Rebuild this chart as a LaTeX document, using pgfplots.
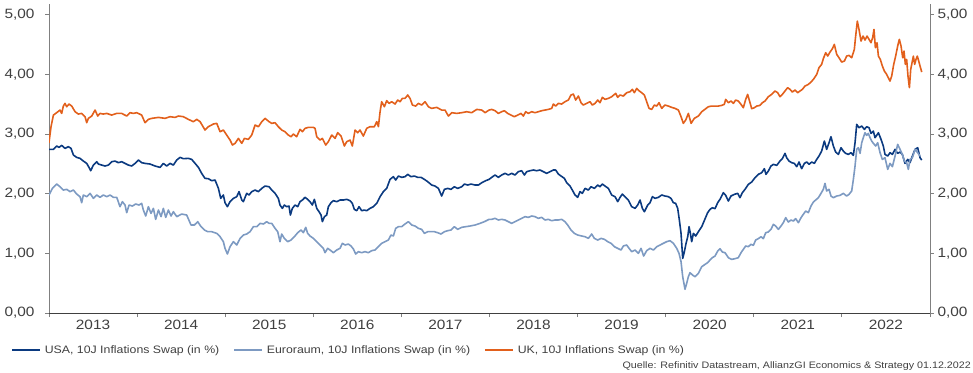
\documentclass[border=0pt]{standalone}
\usepackage{pgfplots}
\pgfplotsset{compat=1.18}
\usepackage{fontspec}
\setmainfont{Liberation Sans}[FakeStretch=1.14]
\definecolor{usa}{HTML}{0B3A80}
\definecolor{euro}{HTML}{7D9AC2}
\definecolor{uk}{HTML}{E2601C}
\definecolor{txt}{HTML}{404040}
\definecolor{axg}{HTML}{808080}
\begin{document}
\begin{tikzpicture}
\path[use as bounding box] (0pt,0pt) rectangle (973pt,372pt);
\begin{axis}[
  at={(49pt,59pt)}, anchor=south west, scale only axis,
  width=881pt, height=309pt,
  xmin=2013, xmax=2023, ymin=0, ymax=5.18,
  axis lines*=left,
  axis line style={draw=axg, line width=0.8pt},
  x axis line style={draw=txt},
  xtick={2013,...,2023}, x tick label as interval,
  ytick={0,1,2,3,4,5},
  tick align=outside, major tick length=4pt,
  tick style={draw=axg, line width=0.8pt},
  /pgf/number format/assume math mode=true,
  xticklabel style={/pgf/number format/1000 sep={}, font=\fontsize{13.5}{16}\selectfont, text=txt},
  yticklabel style={/pgf/number format/fixed, /pgf/number format/fixed zerofill, /pgf/number format/precision=2, /pgf/number format/use comma, font=\fontsize{13.5}{16}\selectfont, text=txt, xshift=-7pt},
  legend style={at={(-0.0431,-0.1197)}, anchor=west, draw=none, fill=none, inner sep=0pt,
    legend columns=3, font=\fontsize{10.8}{13}\selectfont, text=txt,
    nodes={inner sep=0pt},
    /tikz/every odd column/.append style={column sep=4pt},
    /tikz/every even column/.append style={column sep=14pt}},
  legend image code/.code={\draw[#1] (0pt,0pt) -- (28pt,0pt);},
  every axis plot/.append style={line width=1.6pt, line join=round},
]
\addplot[usa] coordinates {
(2013.000,2.743) (2013.050,2.743) (2013.087,2.799) (2013.114,2.777) (2013.144,2.810) (2013.182,2.760) (2013.220,2.788) (2013.250,2.760) (2013.277,2.648) (2013.314,2.609) (2013.352,2.592) (2013.390,2.547) (2013.428,2.508) (2013.454,2.441) (2013.473,2.385) (2013.504,2.480) (2013.542,2.536) (2013.560,2.497) (2013.598,2.480) (2013.636,2.464) (2013.674,2.480) (2013.712,2.536) (2013.750,2.547) (2013.787,2.520) (2013.825,2.536) (2013.863,2.508) (2013.901,2.480) (2013.939,2.464) (2013.977,2.508) (2014.015,2.564) (2014.052,2.520) (2014.090,2.508) (2014.147,2.497) (2014.204,2.464) (2014.261,2.441) (2014.298,2.508) (2014.336,2.464) (2014.374,2.508) (2014.412,2.480) (2014.450,2.564) (2014.488,2.609) (2014.525,2.587) (2014.582,2.592) (2014.620,2.575) (2014.658,2.508) (2014.696,2.441) (2014.733,2.341) (2014.771,2.257) (2014.809,2.251) (2014.847,2.218) (2014.885,2.229) (2014.923,2.089) (2014.949,1.922) (2014.979,1.978) (2014.998,1.849) (2015.025,1.782) (2015.055,1.866) (2015.093,1.922) (2015.131,1.950) (2015.157,2.034) (2015.188,1.894) (2015.206,1.866) (2015.244,2.006) (2015.271,1.978) (2015.301,2.034) (2015.339,2.061) (2015.377,2.034) (2015.415,2.089) (2015.452,2.128) (2015.498,2.117)
(2015.528,2.061) (2015.566,2.006) (2015.603,1.922) (2015.622,1.810) (2015.649,1.754) (2015.671,1.810) (2015.698,1.782) (2015.724,1.793) (2015.740,1.642) (2015.762,1.754) (2015.793,1.810) (2015.823,1.782) (2015.849,1.866) (2015.876,1.894) (2015.906,1.939) (2015.936,1.905) (2015.963,1.866) (2015.989,1.810) (2016.012,1.905) (2016.039,1.754) (2016.065,1.698) (2016.088,1.642) (2016.103,1.531) (2016.126,1.615) (2016.152,1.642) (2016.171,1.782) (2016.201,1.849) (2016.228,1.883) (2016.266,1.866) (2016.303,1.894) (2016.341,1.894) (2016.379,1.905) (2016.417,1.883) (2016.443,1.838) (2016.466,1.737) (2016.493,1.715) (2016.519,1.782) (2016.549,1.715) (2016.580,1.726) (2016.606,1.715) (2016.644,1.754) (2016.682,1.782) (2016.720,1.838) (2016.758,1.950) (2016.795,2.034) (2016.833,2.089) (2016.871,2.240) (2016.909,2.285) (2016.935,2.229) (2016.966,2.296) (2017.003,2.274) (2017.041,2.285) (2017.072,2.324) (2017.109,2.285) (2017.147,2.296) (2017.185,2.274) (2017.223,2.274) (2017.261,2.240) (2017.299,2.201) (2017.344,2.145) (2017.382,2.128) (2017.420,2.089) (2017.457,1.961) (2017.488,2.073) (2017.526,2.089) (2017.563,2.073) (2017.601,2.117) (2017.639,2.089) (2017.685,2.117) (2017.715,2.162) (2017.753,2.145) (2017.790,2.162) (2017.836,2.145) (2017.874,2.145) (2017.912,2.184) (2017.957,2.218) (2017.995,2.240)
(2018.025,2.274) (2018.063,2.313) (2018.100,2.274) (2018.138,2.313) (2018.176,2.341) (2018.214,2.313) (2018.252,2.341) (2018.290,2.313) (2018.327,2.369) (2018.365,2.385) (2018.396,2.313) (2018.422,2.369) (2018.460,2.385) (2018.498,2.397) (2018.536,2.385) (2018.573,2.397) (2018.611,2.369) (2018.649,2.341) (2018.687,2.369) (2018.725,2.397) (2018.751,2.397) (2018.781,2.330) (2018.812,2.296) (2018.850,2.257) (2018.876,2.184) (2018.914,2.128) (2018.940,2.061) (2018.971,1.978) (2019.001,1.939) (2019.027,2.034) (2019.054,2.006) (2019.084,2.089) (2019.122,2.061) (2019.152,2.117) (2019.190,2.089) (2019.228,2.145) (2019.254,2.117) (2019.281,2.162) (2019.311,2.128) (2019.349,2.089) (2019.387,1.978) (2019.425,1.950) (2019.455,1.866) (2019.482,1.939) (2019.508,1.994) (2019.538,1.950) (2019.576,1.894) (2019.614,1.782) (2019.652,1.754) (2019.682,1.810) (2019.709,1.894) (2019.735,1.754) (2019.758,1.698) (2019.796,1.810) (2019.822,1.849) (2019.849,1.950) (2019.879,1.922) (2019.917,1.939) (2019.955,1.978) (2019.992,1.961) (2020.030,1.950) (2020.060,1.922) (2020.087,1.849) (2020.113,1.838) (2020.136,1.754) (2020.155,1.559) (2020.174,1.335) (2020.193,0.916) (2020.212,1.028) (2020.231,1.168) (2020.250,1.279) (2020.265,1.447) (2020.280,1.335) (2020.295,1.196) (2020.314,1.335) (2020.341,1.291) (2020.371,1.363) (2020.409,1.447)
(2020.476,1.682) (2020.503,1.737) (2020.529,1.765) (2020.560,1.749) (2020.590,1.849) (2020.616,1.905) (2020.654,2.017) (2020.681,1.972) (2020.711,1.877) (2020.741,1.961) (2020.779,1.989) (2020.817,2.006) (2020.843,1.933) (2020.870,2.017) (2020.900,2.073) (2020.938,2.156) (2020.976,2.196) (2021.014,2.268) (2021.051,2.324) (2021.089,2.352) (2021.120,2.419) (2021.138,2.324) (2021.165,2.380) (2021.195,2.464) (2021.222,2.492) (2021.260,2.475) (2021.297,2.547) (2021.324,2.587) (2021.354,2.676) (2021.373,2.603) (2021.400,2.547) (2021.430,2.520) (2021.460,2.508) (2021.487,2.453) (2021.513,2.531) (2021.543,2.419) (2021.574,2.508) (2021.600,2.531) (2021.627,2.492) (2021.657,2.531) (2021.687,2.508) (2021.714,2.575) (2021.740,2.631) (2021.770,2.715) (2021.801,2.883) (2021.827,2.743) (2021.854,2.855) (2021.876,2.955) (2021.903,2.799) (2021.929,2.698) (2021.960,2.659) (2021.990,2.771) (2022.016,2.715) (2022.043,2.676) (2022.073,2.659) (2022.103,2.687) (2022.130,2.642) (2022.149,2.855) (2022.168,3.162) (2022.194,3.106) (2022.225,3.134) (2022.255,3.078) (2022.281,3.123) (2022.308,3.106) (2022.330,3.011) (2022.357,3.050) (2022.376,2.939) (2022.395,2.978) (2022.414,3.022) (2022.444,2.911) (2022.470,2.799) (2022.489,2.659) (2022.520,2.631) (2022.546,2.687) (2022.573,2.659) (2022.603,2.743) (2022.633,2.676) (2022.660,2.698) (2022.686,2.659) (2022.716,2.508) (2022.747,2.575) (2022.773,2.520) (2022.800,2.631) (2022.830,2.743) (2022.860,2.771) (2022.887,2.603) (2022.906,2.564)
};
\addlegendentry{USA, 10J Inflations Swap (in \%)}
\addplot[euro] coordinates {
(2013.000,1.978) (2013.038,2.089) (2013.087,2.162) (2013.125,2.117) (2013.163,2.061) (2013.201,2.073) (2013.239,2.034) (2013.277,2.061) (2013.314,1.994) (2013.352,1.950) (2013.371,1.849) (2013.390,1.978) (2013.428,1.950) (2013.466,2.006) (2013.504,1.922) (2013.542,1.978) (2013.579,1.939) (2013.617,1.978) (2013.655,1.950) (2013.693,1.978) (2013.731,1.939) (2013.769,1.939) (2013.806,1.782) (2013.833,1.866) (2013.863,1.810) (2013.882,1.682) (2013.909,1.810) (2013.946,1.793) (2013.984,1.827) (2014.022,1.810) (2014.052,1.838) (2014.071,1.726) (2014.098,1.626) (2014.128,1.782) (2014.158,1.670) (2014.185,1.754) (2014.211,1.570) (2014.242,1.726) (2014.272,1.615) (2014.298,1.754) (2014.325,1.603) (2014.355,1.726) (2014.385,1.626) (2014.412,1.698) (2014.450,1.615) (2014.506,1.659) (2014.563,1.642) (2014.612,1.475) (2014.650,1.475) (2014.688,1.531) (2014.726,1.447) (2014.764,1.391) (2014.802,1.363) (2014.847,1.363) (2014.904,1.335) (2014.942,1.279) (2014.979,1.196) (2014.998,1.084) (2015.025,0.989) (2015.055,1.112) (2015.093,1.196) (2015.131,1.140) (2015.169,1.251) (2015.206,1.307) (2015.244,1.324) (2015.282,1.363) (2015.320,1.447) (2015.358,1.447) (2015.396,1.503) (2015.434,1.492) (2015.471,1.531) (2015.498,1.503)
(2015.528,1.503) (2015.566,1.419) (2015.596,1.363) (2015.622,1.196) (2015.641,1.324) (2015.671,1.251) (2015.709,1.196) (2015.747,1.223) (2015.785,1.279) (2015.823,1.346) (2015.861,1.391) (2015.887,1.346) (2015.914,1.436) (2015.936,1.335) (2015.963,1.291) (2016.001,1.251) (2016.039,1.196) (2016.076,1.140) (2016.114,1.084) (2016.133,1.011) (2016.163,1.084) (2016.190,1.056) (2016.228,1.011) (2016.266,1.056) (2016.303,1.084) (2016.330,1.168) (2016.360,1.140) (2016.398,1.156) (2016.428,1.123) (2016.455,1.073) (2016.481,0.989) (2016.512,1.028) (2016.549,1.011) (2016.587,1.028) (2016.625,1.011) (2016.663,1.045) (2016.701,1.056) (2016.739,1.112) (2016.776,1.168) (2016.814,1.196) (2016.852,1.223) (2016.882,1.307) (2016.909,1.291) (2016.935,1.419) (2016.966,1.447) (2017.003,1.447) (2017.041,1.492) (2017.079,1.531) (2017.117,1.475) (2017.155,1.458) (2017.193,1.419) (2017.230,1.402) (2017.261,1.335) (2017.299,1.363) (2017.336,1.363) (2017.374,1.363) (2017.412,1.346) (2017.450,1.324) (2017.488,1.363) (2017.526,1.380) (2017.563,1.391) (2017.601,1.447) (2017.639,1.402) (2017.685,1.436) (2017.730,1.447) (2017.779,1.458) (2017.836,1.475) (2017.893,1.503) (2017.942,1.531) (2017.995,1.570)
(2018.025,1.570) (2018.063,1.587) (2018.100,1.559) (2018.138,1.570) (2018.176,1.559) (2018.214,1.531) (2018.252,1.503) (2018.290,1.531) (2018.327,1.559) (2018.365,1.587) (2018.403,1.615) (2018.441,1.603) (2018.479,1.626) (2018.517,1.615) (2018.554,1.587) (2018.592,1.603) (2018.630,1.559) (2018.668,1.570) (2018.706,1.547) (2018.744,1.559) (2018.781,1.559) (2018.819,1.570) (2018.857,1.531) (2018.887,1.475) (2018.925,1.391) (2018.963,1.335) (2019.001,1.307) (2019.046,1.291) (2019.084,1.279) (2019.122,1.251) (2019.160,1.324) (2019.190,1.251) (2019.228,1.223) (2019.266,1.251) (2019.304,1.235) (2019.342,1.196) (2019.379,1.168) (2019.417,1.112) (2019.455,1.084) (2019.493,1.056) (2019.519,1.123) (2019.557,1.140) (2019.584,1.084) (2019.614,1.028) (2019.652,1.056) (2019.690,1.000) (2019.720,1.084) (2019.750,0.955) (2019.784,1.045) (2019.822,1.084) (2019.860,1.056) (2019.898,1.112) (2019.936,1.140) (2019.973,1.168) (2020.011,1.196) (2020.049,1.212) (2020.087,1.168) (2020.125,1.084) (2020.151,1.000) (2020.174,0.860) (2020.193,0.609) (2020.219,0.397) (2020.238,0.497) (2020.257,0.609) (2020.276,0.676) (2020.303,0.637) (2020.333,0.609) (2020.371,0.665) (2020.409,0.777)
(2020.476,0.844) (2020.503,0.888) (2020.529,0.927) (2020.560,0.955) (2020.590,1.039) (2020.616,1.078) (2020.643,1.022) (2020.673,1.011) (2020.711,0.927) (2020.749,0.899) (2020.787,0.911) (2020.824,0.927) (2020.855,1.011) (2020.881,1.067) (2020.908,1.123) (2020.938,1.112) (2020.968,1.151) (2020.995,1.134) (2021.021,1.223) (2021.051,1.246) (2021.082,1.279) (2021.108,1.246) (2021.135,1.346) (2021.165,1.358) (2021.195,1.402) (2021.222,1.486) (2021.248,1.458) (2021.279,1.402) (2021.309,1.458) (2021.335,1.514) (2021.362,1.598) (2021.392,1.525) (2021.422,1.559) (2021.449,1.542) (2021.475,1.581) (2021.506,1.514) (2021.536,1.598) (2021.562,1.654) (2021.589,1.709) (2021.619,1.682) (2021.649,1.793) (2021.676,1.860) (2021.702,1.894) (2021.733,1.933) (2021.763,2.006) (2021.789,2.073) (2021.808,2.173) (2021.827,2.045) (2021.854,2.073) (2021.876,1.961) (2021.903,1.933) (2021.941,1.961) (2021.979,1.972) (2022.016,2.006) (2022.054,1.961) (2022.081,1.989) (2022.111,2.045) (2022.130,2.240) (2022.149,2.464) (2022.168,2.743) (2022.187,2.771) (2022.206,2.676) (2022.225,2.855) (2022.243,2.939) (2022.262,3.022) (2022.281,2.978) (2022.300,3.011) (2022.319,2.939) (2022.338,2.883) (2022.357,2.844) (2022.383,2.799) (2022.406,2.855) (2022.433,2.687) (2022.459,2.575) (2022.489,2.603) (2022.520,2.408) (2022.546,2.508) (2022.573,2.453) (2022.603,2.631) (2022.633,2.827) (2022.660,2.743) (2022.686,2.659) (2022.709,2.547) (2022.735,2.520) (2022.754,2.408) (2022.773,2.575) (2022.800,2.603) (2022.830,2.743) (2022.860,2.687) (2022.887,2.631)
};
\addlegendentry{Euroraum, 10J Inflations Swap (in \%)}
\addplot[uk] coordinates {
(2013.000,2.855) (2013.023,3.123) (2013.050,3.318) (2013.087,3.358) (2013.125,3.402) (2013.144,3.346) (2013.163,3.469) (2013.182,3.514) (2013.201,3.458) (2013.227,3.503) (2013.258,3.469) (2013.296,3.374) (2013.333,3.335) (2013.371,3.346) (2013.409,3.291) (2013.428,3.190) (2013.447,3.263) (2013.485,3.302) (2013.523,3.402) (2013.553,3.302) (2013.579,3.346) (2013.617,3.335) (2013.655,3.346) (2013.712,3.318) (2013.769,3.346) (2013.825,3.346) (2013.882,3.302) (2013.920,3.358) (2013.958,3.346) (2013.996,3.358) (2014.052,3.318) (2014.090,3.190) (2014.128,3.246) (2014.166,3.263) (2014.242,3.279) (2014.317,3.263) (2014.374,3.291) (2014.431,3.279) (2014.469,3.302) (2014.525,3.291) (2014.582,3.246) (2014.639,3.207) (2014.677,3.246) (2014.715,3.207) (2014.771,3.067) (2014.809,3.123) (2014.866,3.168) (2014.904,3.179) (2014.942,3.039) (2014.979,3.067) (2015.017,2.983) (2015.055,2.900) (2015.082,2.816) (2015.112,2.844) (2015.150,2.927) (2015.188,2.844) (2015.218,2.927) (2015.263,2.911) (2015.301,2.983) (2015.339,3.151) (2015.377,3.123) (2015.415,3.207) (2015.452,3.263) (2015.498,3.207)
(2015.528,3.179) (2015.566,3.190) (2015.603,3.123) (2015.641,3.067) (2015.679,3.039) (2015.717,2.983) (2015.747,2.955) (2015.774,3.000) (2015.811,2.955) (2015.849,3.078) (2015.876,3.039) (2015.906,3.095) (2015.944,3.112) (2016.001,3.112) (2016.020,3.095) (2016.039,2.955) (2016.076,2.899) (2016.103,2.927) (2016.141,2.816) (2016.171,2.872) (2016.209,2.983) (2016.247,2.927) (2016.277,3.022) (2016.315,2.966) (2016.353,2.799) (2016.379,2.872) (2016.417,2.899) (2016.443,2.799) (2016.474,3.067) (2016.504,3.022) (2016.530,3.067) (2016.568,2.966) (2016.606,3.095) (2016.644,3.123) (2016.693,3.123) (2016.720,3.207) (2016.739,3.123) (2016.758,3.374) (2016.776,3.542) (2016.807,3.458) (2016.833,3.559) (2016.860,3.514) (2016.890,3.542) (2016.928,3.503) (2016.958,3.570) (2016.985,3.542) (2017.011,3.598) (2017.041,3.598) (2017.072,3.654) (2017.098,3.598) (2017.125,3.486) (2017.162,3.469) (2017.193,3.514) (2017.230,3.486) (2017.268,3.542) (2017.306,3.458) (2017.344,3.430) (2017.401,3.447) (2017.457,3.402) (2017.495,3.402) (2017.533,3.302) (2017.571,3.358) (2017.628,3.346) (2017.685,3.358) (2017.741,3.374) (2017.798,3.358) (2017.855,3.413) (2017.912,3.402) (2017.950,3.358) (2017.995,3.402)
(2018.025,3.413) (2018.063,3.391) (2018.100,3.346) (2018.138,3.374) (2018.168,3.391) (2018.206,3.346) (2018.244,3.318) (2018.282,3.291) (2018.320,3.318) (2018.358,3.346) (2018.384,3.302) (2018.411,3.374) (2018.441,3.346) (2018.479,3.374) (2018.517,3.358) (2018.554,3.374) (2018.592,3.391) (2018.630,3.402) (2018.668,3.413) (2018.706,3.430) (2018.725,3.503) (2018.751,3.469) (2018.781,3.514) (2018.819,3.503) (2018.857,3.542) (2018.895,3.570) (2018.925,3.654) (2018.952,3.670) (2018.978,3.570) (2019.009,3.637) (2019.039,3.525) (2019.065,3.486) (2019.103,3.514) (2019.141,3.542) (2019.167,3.486) (2019.198,3.514) (2019.228,3.570) (2019.254,3.525) (2019.281,3.615) (2019.311,3.581) (2019.349,3.598) (2019.387,3.626) (2019.432,3.682) (2019.455,3.615) (2019.482,3.654) (2019.519,3.637) (2019.557,3.693) (2019.595,3.709) (2019.622,3.749) (2019.644,3.693) (2019.671,3.765) (2019.697,3.726) (2019.727,3.693) (2019.758,3.654) (2019.784,3.542) (2019.811,3.430) (2019.841,3.413) (2019.871,3.486) (2019.898,3.469) (2019.924,3.525) (2019.955,3.430) (2019.992,3.486) (2020.030,3.469) (2020.068,3.447) (2020.106,3.430) (2020.144,3.402) (2020.174,3.291) (2020.200,3.179) (2020.227,3.235) (2020.257,3.346) (2020.288,3.179) (2020.325,3.263) (2020.371,3.302) (2020.409,3.374)
(2020.484,3.458) (2020.522,3.469) (2020.560,3.469) (2020.597,3.469) (2020.635,3.480) (2020.665,3.497) (2020.681,3.581) (2020.711,3.525) (2020.741,3.553) (2020.768,3.514) (2020.794,3.570) (2020.824,3.553) (2020.855,3.497) (2020.881,3.441) (2020.908,3.581) (2020.930,3.665) (2020.957,3.525) (2020.976,3.425) (2021.006,3.441) (2021.033,3.469) (2021.070,3.480) (2021.097,3.525) (2021.127,3.553) (2021.165,3.626) (2021.203,3.665) (2021.241,3.721) (2021.271,3.693) (2021.297,3.626) (2021.324,3.665) (2021.354,3.721) (2021.384,3.777) (2021.411,3.749) (2021.437,3.704) (2021.468,3.737) (2021.498,3.693) (2021.524,3.721) (2021.551,3.749) (2021.581,3.804) (2021.619,3.832) (2021.649,3.872) (2021.676,3.916) (2021.714,4.000) (2021.740,4.112) (2021.770,4.168) (2021.789,4.263) (2021.816,4.363) (2021.839,4.307) (2021.865,4.374) (2021.892,4.430) (2021.914,4.503) (2021.941,4.335) (2021.967,4.279) (2021.997,4.207) (2022.028,4.223) (2022.054,4.307) (2022.081,4.318) (2022.111,4.279) (2022.141,4.419) (2022.156,4.642) (2022.175,4.894) (2022.194,4.754) (2022.217,4.559) (2022.240,4.642) (2022.262,4.575) (2022.285,4.642) (2022.308,4.587) (2022.330,4.531) (2022.349,4.615) (2022.364,4.754) (2022.380,4.447) (2022.399,4.531) (2022.414,4.307) (2022.436,4.251) (2022.459,4.140) (2022.482,4.056) (2022.508,4.000) (2022.527,3.944) (2022.546,3.888) (2022.565,3.972) (2022.588,4.168) (2022.610,4.307) (2022.633,4.475) (2022.652,4.587) (2022.671,4.475) (2022.690,4.279) (2022.705,4.391) (2022.720,4.168) (2022.735,4.251) (2022.750,3.972) (2022.766,3.777) (2022.781,4.084) (2022.796,4.196) (2022.811,4.307) (2022.826,4.168) (2022.841,4.251) (2022.856,4.307) (2022.872,4.223) (2022.887,4.140) (2022.906,4.039)
};
\addlegendentry{UK, 10J Inflations Swap (in \%)}
\end{axis}
\begin{axis}[
  at={(49pt,59pt)}, anchor=south west, scale only axis,
  width=881pt, height=309pt,
  xmin=2013, xmax=2023, ymin=0, ymax=5.18,
  axis x line=none, axis y line*=right,
  axis line style={draw=axg, line width=0.8pt},
  ytick={0,1,2,3,4,5},
  tick align=outside, major tick length=4pt,
  tick style={draw=axg, line width=0.8pt},
  /pgf/number format/assume math mode=true,
  yticklabel style={/pgf/number format/fixed, /pgf/number format/fixed zerofill, /pgf/number format/precision=2, /pgf/number format/use comma, font=\fontsize{13.5}{16}\selectfont, text=txt},
]
\addplot[draw=none] coordinates {(2013,0)};
\end{axis}
\node[anchor=east, font=\fontsize{9.4}{11}\selectfont, text=txt, inner sep=0pt] at (971pt,6pt) {Quelle: Refinitiv Datastream, AllianzGI Economics \& Strategy 01.12.2022};
\end{tikzpicture}
\end{document}
